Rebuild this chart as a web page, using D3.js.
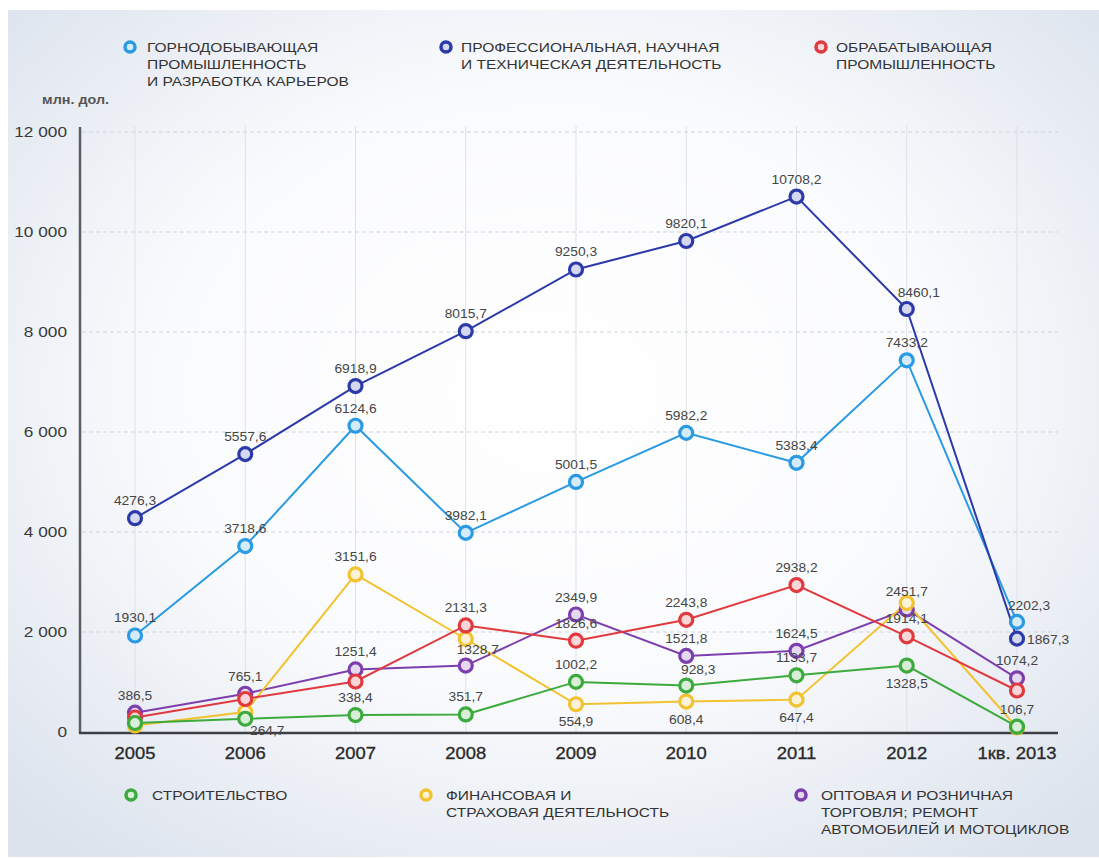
<!DOCTYPE html>
<html><head><meta charset="utf-8">
<script src="https://cdn.jsdelivr.net/npm/d3@7/dist/d3.min.js"></script>
<style>
html,body{margin:0;padding:0;background:#fff;}
svg{display:block;font-family:"Liberation Sans",Arial,sans-serif;}
</style></head>
<body><svg id="c" width="1099" height="859"></svg>
<script>
const categories = ['2005','2006','2007','2008','2009','2010','2011','2012','1кв. 2013'];
const yTicks = [0, 2000, 4000, 6000, 8000, 10000, 12000];

const mining       = [1930.1, 3718.6, 6124.6, 3982.1, 5001.5, 5982.2, 5383.4, 7433.2, 2202.3];
const professional = [4276.3, 5557.6, 6918.9, 8015.7, 9250.3, 9820.1, 10708.2, 8460.1, 1867.3];
const manufacturing= [290, 660, 1010, 2131.3, 1826.6, 2243.8, 2938.2, 1914.1, 830];
const construction = [180, 264.7, 338.4, 351.7, 1002.2, 928.3, 1133.7, 1328.5, 106.7];
const finance      = [130, 400, 3151.6, 1860, 554.9, 608.4, 647.4, 2580, 90];
const trade        = [386.5, 765.1, 1251.4, 1328.7, 2349.9, 1521.8, 1624.5, 2451.7, 1074.2];

// label placement codes: a=above, b=below, r=right, ar=above-right, br=below-right, ''=none
const miningLbl       = ['a','a','a','a','a','a','a','a','ar'];
const professionalLbl = ['a','a','a','a','a','a','a','ar','r'];
const manufacturingLbl= ['','','','a','a','a','a','a',''];
const constructionLbl = ['','br','a','a','a','ar','a','b','a'];
const financeLbl      = ['','','a','','b','b','b','',''];
const tradeLbl        = ['a','a','a','ar','a','a','a','a','a'];

const legendTop = [
  {name:['ГОРНОДОБЫВАЮЩАЯ','ПРОМЫШЛЕННОСТЬ','И РАЗРАБОТКА КАРЬЕРОВ'], color:'#2a9ae2'},
  {name:['ПРОФЕССИОНАЛЬНАЯ, НАУЧНАЯ','И ТЕХНИЧЕСКАЯ ДЕЯТЕЛЬНОСТЬ'], color:'#2b3aa8'},
  {name:['ОБРАБАТЫВАЮЩАЯ','ПРОМЫШЛЕННОСТЬ'], color:'#e0393e'}
];
const legendBottom = [
  {name:['СТРОИТЕЛЬСТВО'], color:'#3caa3c'},
  {name:['ФИНАНСОВАЯ И','СТРАХОВАЯ ДЕЯТЕЛЬНОСТЬ'], color:'#f2c230'},
  {name:['ОПТОВАЯ И РОЗНИЧНАЯ','ТОРГОВЛЯ; РЕМОНТ','АВТОМОБИЛЕЙ И МОТОЦИКЛОВ'], color:'#7e3fae'}
];

const series = [
  {values: trade, lbl: tradeLbl, color:'#7e3fae'},
  {values: finance, lbl: financeLbl, color:'#f2c230'},
  {values: manufacturing, lbl: manufacturingLbl, color:'#e0393e'},
  {values: construction, lbl: constructionLbl, color:'#3caa3c'},
  {values: mining, lbl: miningLbl, color:'#2a9ae2'},
  {values: professional, lbl: professionalLbl, color:'#2b3aa8'}
];

const SX = 1.15;
const svg = d3.select('#c');
const defs = svg.append('defs');
const rg = defs.append('radialGradient').attr('id','bg').attr('cx','50%').attr('cy','45%').attr('r','70%');
rg.append('stop').attr('offset','0%').attr('stop-color','#ffffff');
rg.append('stop').attr('offset','50%').attr('stop-color','#fafbfd');
rg.append('stop').attr('offset','100%').attr('stop-color','#dce3ed');
svg.append('rect').attr('x',8).attr('y',10).attr('width',1091).attr('height',847).attr('fill','url(#bg)');

const x = d3.scalePoint().domain(categories).range([135, 1017]);
const y = d3.scaleLinear().domain([0, 12000]).range([732, 132]);
const loc = d3.formatLocale({decimal:',', thousands:' ', grouping:[3], currency:['','']});
const fTick = loc.format(',');
const fVal = loc.format('.1f');

function stxt(sel, px, py, s) {
  return sel.append('text').attr('transform', `translate(${px},${py}) scale(${SX},1)`).text(s);
}

// grid
const grid = svg.append('g');
grid.selectAll('line.v').data(categories).join('line')
  .attr('x1', d => x(d)).attr('x2', d => x(d))
  .attr('y1', y(12000) - 6).attr('y2', y(0))
  .attr('stroke', '#dde1e7').attr('stroke-width', 1);
grid.selectAll('line.h').data(yTicks.filter(t => t > 0)).join('line')
  .attr('x1', 82).attr('x2', 1058)
  .attr('y1', d => y(d)).attr('y2', d => y(d))
  .attr('stroke', '#cfd4db').attr('stroke-width', 1).attr('stroke-dasharray', '4,3');

// axes
svg.append('line').attr('x1', 80).attr('x2', 80).attr('y1', y(12000) - 5).attr('y2', y(0) + 1)
  .attr('stroke', '#5a5f66').attr('stroke-width', 2.5);
svg.append('line').attr('x1', 79).attr('x2', 1058).attr('y1', y(0) + 1).attr('y2', y(0) + 1)
  .attr('stroke', '#3c4046').attr('stroke-width', 2.5);

const yl = svg.append('g').attr('font-size', 15).attr('fill', '#3a3a3a').attr('text-anchor', 'end');
yTicks.forEach(t => stxt(yl, 67, y(t) + 5, fTick(t)));
const xl = svg.append('g').attr('font-size', 16).attr('fill', '#2a2a2a').attr('text-anchor', 'middle')
  .attr('stroke', '#2a2a2a').attr('stroke-width', 0.3);
categories.forEach(c => stxt(xl, x(c), 759, c));
stxt(svg.append('g').attr('font-size', 12.5).attr('font-weight', 'bold').attr('fill', '#555'), 42, 104, 'млн. дол.');

// lines
const line = d3.line().x((d, i) => x(categories[i])).y(d => y(d));
const light = c => d3.interpolateRgb(c, '#ffffff')(0.8);
series.forEach(s => {
  svg.append('path').datum(s.values).attr('d', line).attr('fill', 'none')
    .attr('stroke', s.color).attr('stroke-width', 2);
});
series.forEach(s => {
  svg.append('g').selectAll('circle').data(s.values).join('circle')
    .attr('cx', (d, i) => x(categories[i])).attr('cy', d => y(d)).attr('r', 6.5)
    .attr('fill', light(s.color)).attr('stroke', s.color).attr('stroke-width', 3.2);
});

// value labels
const lg = svg.append('g').attr('font-size', 12).attr('fill', '#454545');
const place = {a:[0,-13,'middle'], b:[0,22,'middle'], r:[10,5,'start'], ar:[12,-12,'middle'], br:[22,16,'middle']};
series.forEach(s => {
  s.values.forEach((v, i) => {
    const code = s.lbl[i];
    if (!code) return;
    const p = place[code];
    stxt(lg, x(categories[i]) + p[0], y(v) + p[1], fVal(v)).attr('text-anchor', p[2]);
  });
});

// legends
function legend(items, xs, yc) {
  items.forEach((it, k) => {
    const g = svg.append('g');
    g.append('circle').attr('cx', xs[k][0]).attr('cy', yc).attr('r', 5)
      .attr('fill', light(it.color)).attr('stroke', it.color).attr('stroke-width', 3.5);
    const tg = g.append('g').attr('font-size', 13.5).attr('fill', '#333');
    it.name.forEach((ln, j) => stxt(tg, xs[k][1], yc + 5 + j * 17, ln));
  });
}
legend(legendTop, [[130,147],[446,461],[821,836]], 47);
legend(legendBottom, [[131,152],[426,446],[801,821]], 795);
</script></body></html>
